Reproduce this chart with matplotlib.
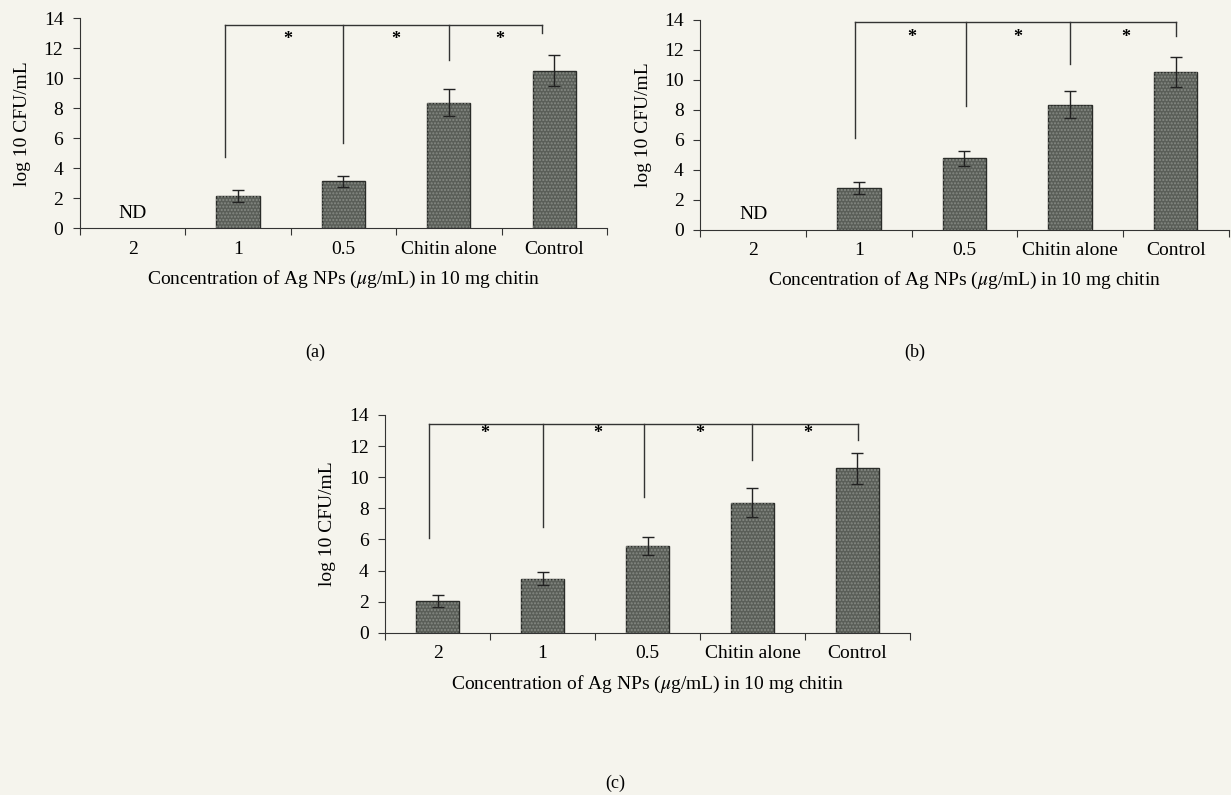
import matplotlib
matplotlib.use("Agg")
import matplotlib.pyplot as plt

plt.rcParams['font.family'] = ['Liberation Serif', 'DejaVu Serif']
plt.rcParams['mathtext.fontset'] = 'stix'

categories = ["2", "1", "0.5", "Chitin alone", "Control"]

# panel (a)
vals_a = [0, 2.12, 3.13, 8.37, 10.5]
errs_a = [0, 0.4, 0.36, 0.9, 1.05]
nd_a = [True, False, False, False, False]
# panel (b)
vals_b = [0, 2.78, 4.78, 8.33, 10.51]
errs_b = [0, 0.38, 0.5, 0.9, 1.0]
nd_b = [True, False, False, False, False]
# panel (c)
vals_c = [2.06, 3.48, 5.6, 8.37, 10.58]
errs_c = [0.4, 0.42, 0.58, 0.92, 1.0]
nd_c = [False, False, False, False, False]

# significance brackets
sig_a = dict(xs=[0.88, 2.0, 3.0, 3.88], bottoms=[4.77, 5.7, 11.2, 13.05], level=13.55,
             stars=[1.47, 2.5, 3.48], star_y=12.6)
sig_b = dict(xs=[0.96, 2.01, 3.0, 4.0], bottoms=[6.1, 8.27, 11.07, 12.9], level=13.87,
             stars=[1.5, 2.5, 3.53], star_y=12.8)
sig_c = dict(xs=[-0.08, 1.0, 1.97, 3.0, 4.01], bottoms=[6.1, 6.8, 8.7, 11.1, 12.4], level=13.4,
             stars=[0.45, 1.53, 2.5, 3.53], star_y=12.8)

BG = '#f5f4ed'
BAR = '#5a5e58'
FS = 14

fig = plt.figure(figsize=(12.31, 7.95), dpi=100, facecolor=BG)

def panel(rect, vals, errs, nd, sig, label, label_pos):
    ax = fig.add_axes(rect)
    ax.set_facecolor('none')
    x = list(range(len(categories)))
    for i in x:
        if nd[i]:
            ax.text(i, 1.0, "ND", ha='center', va='center', fontsize=FS)
            continue
        ax.bar(i, vals[i], width=0.41, color=BAR, edgecolor='#2a2c29', linewidth=1.0, zorder=2)
        ax.bar(i, vals[i], width=0.41, color='none', edgecolor='#868a84', hatch='.....',
               linewidth=0, zorder=2.5)
        ax.errorbar(i, vals[i], yerr=errs[i], fmt='none', ecolor='#222222',
                    elinewidth=1.0, capsize=4, capthick=1.0, zorder=3)
    xs = sig['xs']
    ax.plot([xs[0], xs[-1]], [sig['level'], sig['level']], color='#333333', lw=1.0, clip_on=False)
    for xx, b in zip(xs, sig['bottoms']):
        ax.plot([xx, xx], [b, sig['level']], color='#333333', lw=1.0, clip_on=False)
    for sx in sig['stars']:
        ax.text(sx, sig['star_y'], "*", ha='center', va='center', fontsize=FS - 1, fontweight='bold')
    ax.set_xlim(-0.5, len(categories) - 0.5)
    ax.set_ylim(0, 14)
    ax.set_yticks(range(0, 15, 2))
    ax.set_xticks([i - 0.5 for i in range(len(categories) + 1)])
    ax.set_xticklabels([])
    ax.set_xticks(x, minor=True)
    ax.set_xticklabels(categories, minor=True, fontsize=FS)
    ax.tick_params(axis='x', which='minor', length=0, pad=9)
    ax.tick_params(axis='x', which='major', length=5, direction='out', color='#333333')
    ax.tick_params(axis='y', length=5, direction='out', labelsize=FS, color='#333333', pad=7)
    for s in ['top', 'right']:
        ax.spines[s].set_visible(False)
    for s in ['left', 'bottom']:
        ax.spines[s].set_color('#333333')
    ax.set_ylabel("log 10 CFU/mL", fontsize=FS, labelpad=9)
    ax.set_xlabel(r"Concentration of Ag NPs ($\mu$g/mL) in 10 mg chitin", fontsize=FS, labelpad=8)
    fig.text(label_pos[0], label_pos[1], label, ha='center', va='center', fontsize=FS - 1)
    return ax

panel([0.065, 0.713, 0.428, 0.264], vals_a, errs_a, nd_a, sig_a, "(a)", (315 / 1231, 1 - 352 / 795))
panel([0.569, 0.711, 0.429, 0.264], vals_b, errs_b, nd_b, sig_b, "(b)", (915 / 1231, 1 - 352 / 795))
panel([0.313, 0.204, 0.426, 0.274], vals_c, errs_c, nd_c, sig_c, "(c)", (615 / 1231, 1 - 783 / 795))

fig.savefig("out.png", dpi=100, facecolor=BG)
